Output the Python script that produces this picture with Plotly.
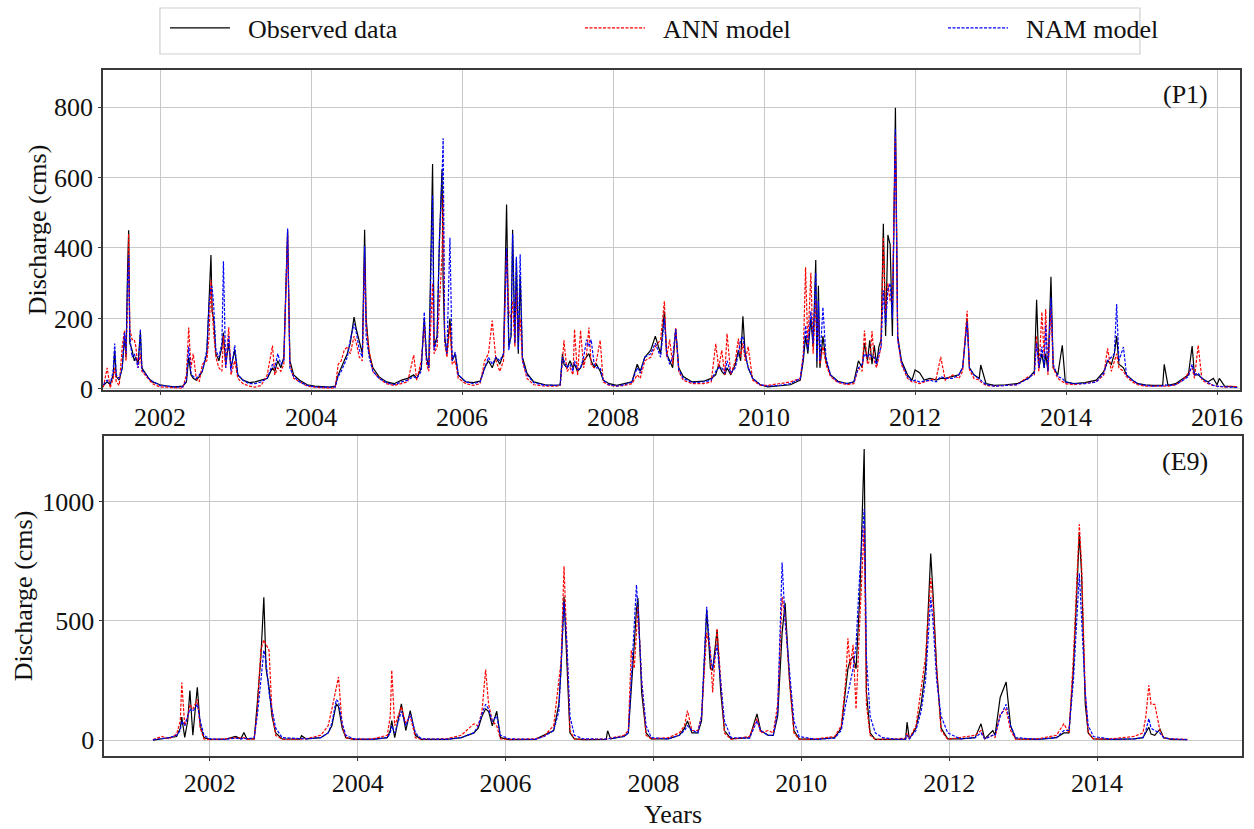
import plotly.graph_objects as go

# ---------------- Panel P1 (top) ----------------
p1_years = [
    2001.25, 2001.30, 2001.34, 2001.38, 2001.40, 2001.42, 2001.46, 2001.50, 2001.53, 2001.55,
    2001.57, 2001.585, 2001.60, 2001.63, 2001.66, 2001.68, 2001.71, 2001.74, 2001.76, 2001.80,
    2001.85, 2001.90, 2001.95, 2002.00, 2002.10, 2002.20, 2002.30, 2002.35, 2002.38, 2002.41,
    2002.44, 2002.48, 2002.52, 2002.56, 2002.62, 2002.65, 2002.675, 2002.69, 2002.71, 2002.74,
    2002.78, 2002.82, 2002.84, 2002.87, 2002.91, 2002.94, 2002.99, 2003.03, 2003.10, 2003.18,
    2003.26, 2003.34, 2003.42, 2003.49, 2003.52, 2003.56, 2003.60, 2003.64, 2003.69, 2003.72,
    2003.77, 2003.85, 2003.95, 2004.05, 2004.15, 2004.25, 2004.32, 2004.36, 2004.40, 2004.44,
    2004.48, 2004.52, 2004.57, 2004.60, 2004.64, 2004.68, 2004.71, 2004.73, 2004.77, 2004.82,
    2004.90, 2005.00, 2005.10, 2005.20, 2005.28, 2005.36, 2005.40, 2005.46, 2005.50, 2005.53,
    2005.56, 2005.61, 2005.63, 2005.67, 2005.70, 2005.735, 2005.75, 2005.77, 2005.80, 2005.84,
    2005.87, 2005.91, 2005.95, 2006.05, 2006.15, 2006.24, 2006.30, 2006.35, 2006.40, 2006.45,
    2006.50, 2006.55, 2006.59, 2006.62, 2006.65, 2006.67, 2006.70, 2006.72, 2006.745, 2006.77,
    2006.80, 2006.86, 2006.95, 2007.10, 2007.25, 2007.30, 2007.33, 2007.35, 2007.39, 2007.43,
    2007.47, 2007.49, 2007.53, 2007.57, 2007.61, 2007.65, 2007.68, 2007.71, 2007.75, 2007.78,
    2007.83, 2007.87, 2007.95, 2008.05, 2008.15, 2008.25, 2008.32, 2008.36, 2008.42, 2008.50,
    2008.56, 2008.63, 2008.68, 2008.71, 2008.75, 2008.79, 2008.83, 2008.87, 2008.93, 2009.05,
    2009.20, 2009.30, 2009.36, 2009.40, 2009.44, 2009.48, 2009.51, 2009.56, 2009.62, 2009.66,
    2009.69, 2009.72, 2009.75, 2009.79, 2009.85, 2009.95, 2010.05, 2010.20, 2010.35, 2010.48,
    2010.52, 2010.55, 2010.58, 2010.62, 2010.65, 2010.685, 2010.70, 2010.72, 2010.74, 2010.78,
    2010.82, 2010.88, 2010.98, 2011.10, 2011.19, 2011.25, 2011.30, 2011.33, 2011.37, 2011.40,
    2011.43, 2011.46, 2011.49, 2011.52, 2011.55, 2011.58, 2011.61, 2011.64, 2011.67, 2011.70,
    2011.74, 2011.77, 2011.82, 2011.90, 2011.96, 2012.00, 2012.06, 2012.12, 2012.20, 2012.28,
    2012.34, 2012.40, 2012.50, 2012.58, 2012.63, 2012.69, 2012.72, 2012.78, 2012.85, 2012.87, 2012.94,
    2013.05, 2013.20, 2013.35, 2013.50, 2013.58, 2013.61, 2013.64, 2013.68, 2013.71, 2013.73,
    2013.76, 2013.80, 2013.83, 2013.89, 2013.95, 2013.99, 2014.10, 2014.25, 2014.40, 2014.50,
    2014.55, 2014.60, 2014.64, 2014.67, 2014.70, 2014.76, 2014.80, 2014.88, 2014.95, 2015.05,
    2015.15, 2015.28, 2015.30, 2015.35, 2015.45, 2015.55, 2015.62, 2015.67, 2015.70, 2015.75, 2015.80,
    2015.88, 2015.95, 2016.00, 2016.03, 2016.10, 2016.20, 2016.27,
]
p1_observed = [
    10, 20, 12, 40, 110, 35, 25, 60, 150, 90,
    335, 450, 130, 110, 80, 90, 70, 160, 60, 45,
    30, 20, 15, 12, 8, 6, 8, 20, 90, 40,
    30, 25, 35, 50, 100, 255, 380, 220, 200, 100,
    80, 120, 160, 70, 130, 60, 110, 40, 25, 18,
    20, 25, 30, 60, 50, 80, 60, 90, 450, 80,
    40, 25, 12, 8, 6, 5, 8, 40, 60, 80,
    100, 130, 204, 170, 130, 100, 452, 200, 100, 60,
    35, 20, 15, 25, 30, 40, 30, 60, 200, 90,
    60, 638, 120, 150, 415, 623, 300, 150, 100, 200,
    80, 100, 40, 20, 18, 22, 60, 80, 60, 90,
    70, 100, 523, 120, 150, 452, 130, 370, 100, 320,
    90, 45, 20, 12, 10, 12, 100, 70, 60, 80,
    60, 70, 50, 60, 80, 90, 100, 80, 60, 70,
    50, 25, 15, 10, 15, 20, 70, 50, 90, 110,
    150, 100, 220, 100, 80, 60, 170, 60, 35, 20,
    22, 30, 40, 70, 50, 40, 60, 40, 70, 110,
    80, 206, 100, 60, 30, 12, 6, 8, 12, 25,
    80, 150, 100, 200, 120, 366, 60, 293, 60, 150,
    80, 40, 22, 15, 20, 80, 60, 130, 80, 138,
    70, 124, 70, 119, 140, 469, 150, 437, 410, 150,
    798, 150, 80, 40, 25, 54, 46, 25, 30, 25,
    30, 30, 35, 40, 60, 200, 60, 40, 30, 68, 15,
    10, 12, 15, 30, 50, 253, 60, 100, 60, 100,
    50, 318, 60, 40, 124, 20, 15, 18, 25, 50,
    80, 70, 100, 150, 70, 60, 40, 25, 15, 12,
    10, 10, 70, 10, 15, 30, 40, 122, 40, 40, 30,
    20, 30, 12, 30, 8, 5, 5,
]
p1_ann = [
    5, 60, 3, 30, 60, 20, 10, 120, 166, 80,
    250, 440, 170, 140, 140, 120, 60, 100, 50, 40,
    25, 15, 10, 6, 5, 3, 2, 40, 174, 60,
    100, 30, 20, 70, 80, 150, 310, 230, 160, 90,
    60, 50, 150, 60, 175, 40, 80, 30, 15, 8,
    5, 10, 40, 123, 40, 60, 50, 70, 440, 70,
    30, 20, 8, 5, 3, 2, 3, 70, 80, 110,
    120, 100, 150, 130, 90, 80, 368, 180, 110, 50,
    30, 15, 10, 15, 20, 96, 25, 80, 180, 70,
    50, 300, 100, 120, 250, 380, 550, 130, 90, 180,
    70, 80, 30, 15, 10, 15, 80, 100, 194, 80,
    50, 80, 392, 220, 200, 250, 120, 280, 150, 200,
    80, 30, 12, 8, 8, 10, 80, 138, 50, 60,
    40, 169, 40, 166, 60, 100, 174, 70, 60, 80,
    138, 20, 10, 8, 10, 15, 40, 30, 80, 90,
    120, 140, 249, 90, 140, 70, 174, 50, 25, 15,
    15, 20, 128, 60, 110, 40, 157, 40, 80, 143,
    90, 130, 80, 120, 25, 10, 10, 15, 20, 30,
    100, 345, 120, 330, 100, 250, 150, 200, 70, 120,
    70, 35, 18, 12, 15, 60, 50, 166, 70, 80,
    164, 80, 60, 90, 120, 430, 200, 300, 250, 250,
    720, 140, 70, 30, 20, 20, 15, 20, 25, 30,
    91, 25, 40, 30, 50, 222, 55, 30, 25, 20, 10,
    8, 10, 12, 35, 40, 150, 50, 218, 90, 227,
    40, 230, 60, 30, 20, 15, 12, 15, 20, 40,
    115, 50, 80, 100, 60, 50, 35, 20, 12, 8,
    8, 8, 10, 8, 12, 25, 45, 60, 30, 124, 25,
    15, 10, 8, 8, 5, 8, 6,
]
p1_nam = [
    12, 25, 15, 50, 129, 40, 30, 60, 160, 100,
    300, 380, 150, 90, 100, 80, 60, 170, 55, 45,
    30, 22, 15, 10, 8, 5, 6, 25, 120, 45,
    35, 30, 40, 50, 110, 240, 290, 290, 240, 110,
    90, 130, 362, 60, 150, 50, 124, 40, 25, 15,
    15, 20, 30, 70, 60, 100, 70, 80, 455, 60,
    35, 20, 10, 6, 5, 4, 5, 35, 50, 70,
    90, 140, 185, 160, 110, 90, 405, 150, 90, 50,
    30, 18, 12, 20, 25, 35, 30, 50, 218, 80,
    60, 550, 110, 140, 420, 600, 711, 140, 100, 429,
    80, 105, 40, 20, 15, 20, 55, 90, 70, 90,
    80, 100, 400, 110, 160, 440, 130, 375, 110, 382,
    80, 40, 18, 10, 10, 12, 90, 80, 60, 70,
    50, 80, 55, 60, 90, 140, 120, 140, 70, 60,
    60, 25, 12, 8, 12, 20, 60, 45, 90, 100,
    130, 90, 200, 100, 70, 90, 170, 55, 30, 18,
    20, 25, 50, 60, 60, 45, 80, 45, 60, 100,
    140, 150, 100, 60, 30, 12, 8, 10, 15, 30,
    90, 180, 110, 220, 130, 330, 80, 250, 80, 232,
    90, 40, 20, 15, 20, 60, 70, 100, 90, 100,
    90, 90, 70, 100, 120, 280, 180, 280, 300, 200,
    739, 140, 75, 35, 22, 25, 20, 22, 25, 20,
    35, 30, 30, 40, 60, 190, 60, 40, 30, 25, 12,
    8, 10, 12, 30, 45, 130, 60, 120, 60, 180,
    50, 260, 70, 35, 30, 20, 15, 15, 20, 45,
    80, 90, 100, 241, 80, 119, 40, 25, 15, 10,
    8, 9, 12, 10, 12, 25, 35, 70, 40, 45, 30,
    18, 10, 8, 8, 6, 5, 4,
]

# ---------------- Panel E9 (bottom) ----------------
e9_years = [
    2001.23, 2001.35, 2001.45, 2001.55, 2001.60, 2001.62, 2001.66, 2001.70, 2001.73, 2001.77,
    2001.83, 2001.87, 2001.92, 2002.00, 2002.20, 2002.35, 2002.42, 2002.46, 2002.50, 2002.60,
    2002.64, 2002.69, 2002.73, 2002.76, 2002.80, 2002.84, 2002.89, 2002.98, 2003.22, 2003.24, 2003.30,
    2003.50, 2003.60, 2003.65, 2003.71, 2003.74, 2003.79, 2003.84, 2003.95, 2004.20, 2004.40,
    2004.44, 2004.46, 2004.50, 2004.59, 2004.65, 2004.71, 2004.78, 2004.86, 2005.20, 2005.40,
    2005.57, 2005.63, 2005.68, 2005.73, 2005.77, 2005.82, 2005.88, 2005.93, 2006.05, 2006.40,
    2006.52, 2006.59, 2006.65, 2006.72, 2006.75, 2006.79, 2006.83, 2006.87, 2006.93, 2007.05,
    2007.36, 2007.38, 2007.42, 2007.60, 2007.66, 2007.70, 2007.74, 2007.77, 2007.79, 2007.84, 2007.90,
    2007.97, 2008.20, 2008.35, 2008.42, 2008.46, 2008.52, 2008.60, 2008.65, 2008.72, 2008.77,
    2008.80, 2008.86, 2008.91, 2008.96, 2009.05, 2009.30, 2009.40, 2009.45, 2009.55, 2009.62,
    2009.68, 2009.74, 2009.78, 2009.84, 2009.90, 2009.97, 2010.20, 2010.45, 2010.54, 2010.60,
    2010.63, 2010.66, 2010.70, 2010.74, 2010.79, 2010.85, 2010.88, 2010.93, 2011.00, 2011.10,
    2011.30, 2011.41, 2011.43, 2011.46, 2011.55, 2011.62, 2011.68, 2011.75, 2011.78, 2011.83, 2011.89,
    2011.98, 2012.15, 2012.35, 2012.43, 2012.48, 2012.59, 2012.62, 2012.69, 2012.77, 2012.83,
    2012.90, 2013.20, 2013.45, 2013.55, 2013.62, 2013.68, 2013.76, 2013.79, 2013.84, 2013.88,
    2013.95, 2014.20, 2014.50, 2014.62, 2014.66, 2014.70, 2014.73, 2014.78, 2014.85, 2014.90,
    2015.00, 2015.22,
]
e9_observed = [
    0, 5, 8, 15, 50, 96, 11, 80, 208, 20,
    222, 60, 10, 3, 3, 15, 5, 32, 5, 5,
    150, 350, 600, 300, 222, 100, 30, 5, 4, 18, 5,
    10, 30, 60, 152, 140, 50, 10, 3, 3, 10,
    40, 82, 10, 152, 40, 124, 20, 3, 3, 10,
    30, 50, 100, 131, 120, 60, 121, 10, 2, 3,
    20, 30, 40, 150, 300, 603, 300, 30, 5, 2,
    3, 39, 5, 15, 30, 200, 400, 550, 596, 200, 30,
    5, 5, 20, 50, 80, 30, 30, 80, 546, 300,
    293, 462, 200, 40, 5, 10, 110, 40, 20, 20,
    100, 450, 575, 250, 40, 5, 3, 10, 50, 200,
    300, 335, 350, 300, 600, 1222, 200, 30, 3, 3,
    3, 4, 75, 5, 50, 150, 300, 783, 620, 300, 50,
    5, 5, 10, 68, 5, 40, 20, 180, 244, 60,
    5, 3, 10, 30, 30, 300, 868, 700, 150, 30,
    5, 3, 5, 10, 30, 54, 25, 20, 46, 10,
    3, 2,
]
e9_ann = [
    2, 15, 5, 25, 80, 241, 60, 100, 150, 130,
    170, 50, 5, 2, 5, 10, 8, 10, 3, 5,
    120, 380, 420, 400, 377, 120, 20, 3, 3, 5, 5,
    20, 60, 130, 220, 265, 60, 10, 3, 5, 20,
    100, 293, 60, 140, 70, 100, 10, 3, 5, 20,
    68, 60, 120, 296, 150, 80, 60, 5, 3, 5,
    15, 40, 60, 250, 328, 730, 350, 40, 5, 3,
    4, 5, 8, 20, 40, 377, 300, 450, 560, 250, 20,
    5, 10, 30, 60, 124, 40, 40, 100, 450, 380,
    200, 469, 250, 30, 3, 15, 90, 30, 40, 30,
    150, 600, 520, 250, 30, 3, 5, 15, 60, 250,
    427, 300, 400, 130, 500, 900, 150, 20, 3, 3,
    5, 8, 30, 5, 60, 215, 350, 680, 580, 300, 40,
    3, 10, 20, 40, 5, 20, 10, 110, 130, 40,
    3, 5, 20, 68, 30, 350, 906, 737, 200, 30,
    5, 5, 15, 30, 100, 230, 150, 150, 40, 10,
    5, 3,
]
e9_nam = [
    1, 5, 10, 20, 40, 80, 60, 100, 130, 120,
    150, 80, 20, 5, 3, 8, 5, 8, 5, 10,
    100, 250, 377, 330, 200, 130, 50, 10, 6, 5, 5,
    10, 30, 70, 170, 160, 70, 20, 5, 3, 10,
    30, 60, 30, 120, 60, 110, 30, 5, 3, 10,
    30, 60, 110, 150, 130, 80, 100, 20, 5, 3,
    15, 30, 40, 120, 350, 580, 400, 100, 20, 5,
    4, 5, 5, 15, 30, 250, 500, 652, 550, 250, 60,
    10, 5, 20, 40, 60, 40, 30, 100, 560, 350,
    300, 400, 250, 80, 10, 8, 80, 40, 20, 20,
    120, 746, 500, 300, 80, 15, 3, 8, 40, 150,
    200, 250, 300, 400, 700, 970, 350, 100, 30, 10,
    3, 4, 20, 5, 40, 120, 250, 600, 500, 250, 100,
    30, 5, 10, 30, 5, 20, 20, 100, 150, 60,
    10, 3, 10, 40, 40, 250, 700, 500, 200, 60,
    15, 3, 5, 10, 40, 90, 50, 40, 30, 10,
    5, 2,
]

year_ticks = [2002, 2004, 2006, 2008, 2010, 2012, 2014, 2016]
p1_value_ticks = [0, 200, 400, 600, 800]
e9_value_ticks = [0, 500, 1000]

FONT = "Liberation Serif, Times New Roman, serif"
TXT = "#111111"
BLACK = "#000000"
RED = "#ff0000"
BLUE = "#0000ff"
GAP = "\u00a0\u00a0"

fig = go.Figure()

def add_panel(xs, obs, ann, nam, xa, ya, show):
    fig.add_trace(go.Scatter(x=xs, y=obs, mode="lines", name=GAP + "Observed data",
                             line=dict(color=BLACK, width=1.2), xaxis=xa, yaxis=ya,
                             showlegend=show, legend="legend"))
    fig.add_trace(go.Scatter(x=xs, y=ann, mode="lines", name=GAP + "ANN model",
                             line=dict(color=RED, width=1.2, dash="3px,1.5px"), xaxis=xa, yaxis=ya,
                             showlegend=show, legend="legend2"))
    fig.add_trace(go.Scatter(x=xs, y=nam, mode="lines", name=GAP + "NAM model",
                             line=dict(color=BLUE, width=1.2, dash="3px,1.5px"), xaxis=xa, yaxis=ya,
                             showlegend=show, legend="legend3"))

add_panel(p1_years, p1_observed, p1_ann, p1_nam, "x", "y", True)
add_panel(e9_years, e9_observed, e9_ann, e9_nam, "x2", "y2", False)

axis_common = dict(
    showline=True, linecolor="#3a3a3a", linewidth=1.5, mirror=True,
    showgrid=True, gridcolor="#c8c8c8", gridwidth=1,
    zeroline=False, ticks="outside", ticklen=3, tickcolor="#3a3a3a",
    tickfont=dict(family=FONT, size=26, color=TXT),
)

legend_common = dict(orientation="h", yanchor="middle", y=1.0613, xanchor="left",
                     bgcolor="rgba(0,0,0,0)", borderwidth=0,
                     font=dict(family=FONT, size=26, color=TXT), itemwidth=60)

fig.update_layout(
    width=1254, height=829,
    margin=dict(l=103, r=12, t=70, b=73, autoexpand=False),
    paper_bgcolor="white", plot_bgcolor="white",
    font=dict(family=FONT, color=TXT),
    xaxis=dict(domain=[0, 0.998], anchor="y", range=[2001.245, 2016.3],
               tickvals=year_ticks, ticktext=[str(v) for v in year_ticks], **axis_common),
    yaxis=dict(domain=[0.5335, 1.0], anchor="x", range=[-3, 905],
               tickvals=p1_value_ticks,
               title=dict(text="Discharge (cms)", font=dict(family=FONT, size=26, color=TXT), standoff=0),
               **axis_common),
    xaxis2=dict(domain=[0.001, 1.0], anchor="y2", range=[2000.57, 2015.96],
                tickvals=year_ticks, ticktext=[str(v) for v in year_ticks],
                title=dict(text="Years", font=dict(family=FONT, size=26, color=TXT), standoff=10),
                **axis_common),
    yaxis2=dict(domain=[0, 0.4665], anchor="x2", range=[-67, 1277],
                tickvals=e9_value_ticks,
                title=dict(text="Discharge (cms)", font=dict(family=FONT, size=26, color=TXT), standoff=2),
                **axis_common),
    legend=dict(x=0.0544, **legend_common),
    legend2=dict(x=0.4188, **legend_common),
    legend3=dict(x=0.7375, **legend_common),
    shapes=[
        dict(type="rect", xref="paper", yref="paper",
             x0=0.0500, x1=0.9104, y0=1.0233, y1=1.0904,
             line=dict(color="#cfcfcf", width=1.2), fillcolor="white", layer="below"),
    ],
    annotations=[
        dict(text="(P1)", xref="x domain", yref="y domain", x=0.974, y=0.922,
             xanchor="right", yanchor="middle", showarrow=False,
             font=dict(family=FONT, size=26, color=TXT)),
        dict(text="(E9)", xref="x2 domain", yref="y2 domain", x=0.972, y=0.919,
             xanchor="right", yanchor="middle", showarrow=False,
             font=dict(family=FONT, size=26, color=TXT)),
    ],
)

fig.write_html("out.html", config={"displayModeBar": False},
               post_script="document.body.style.margin='0px';")
